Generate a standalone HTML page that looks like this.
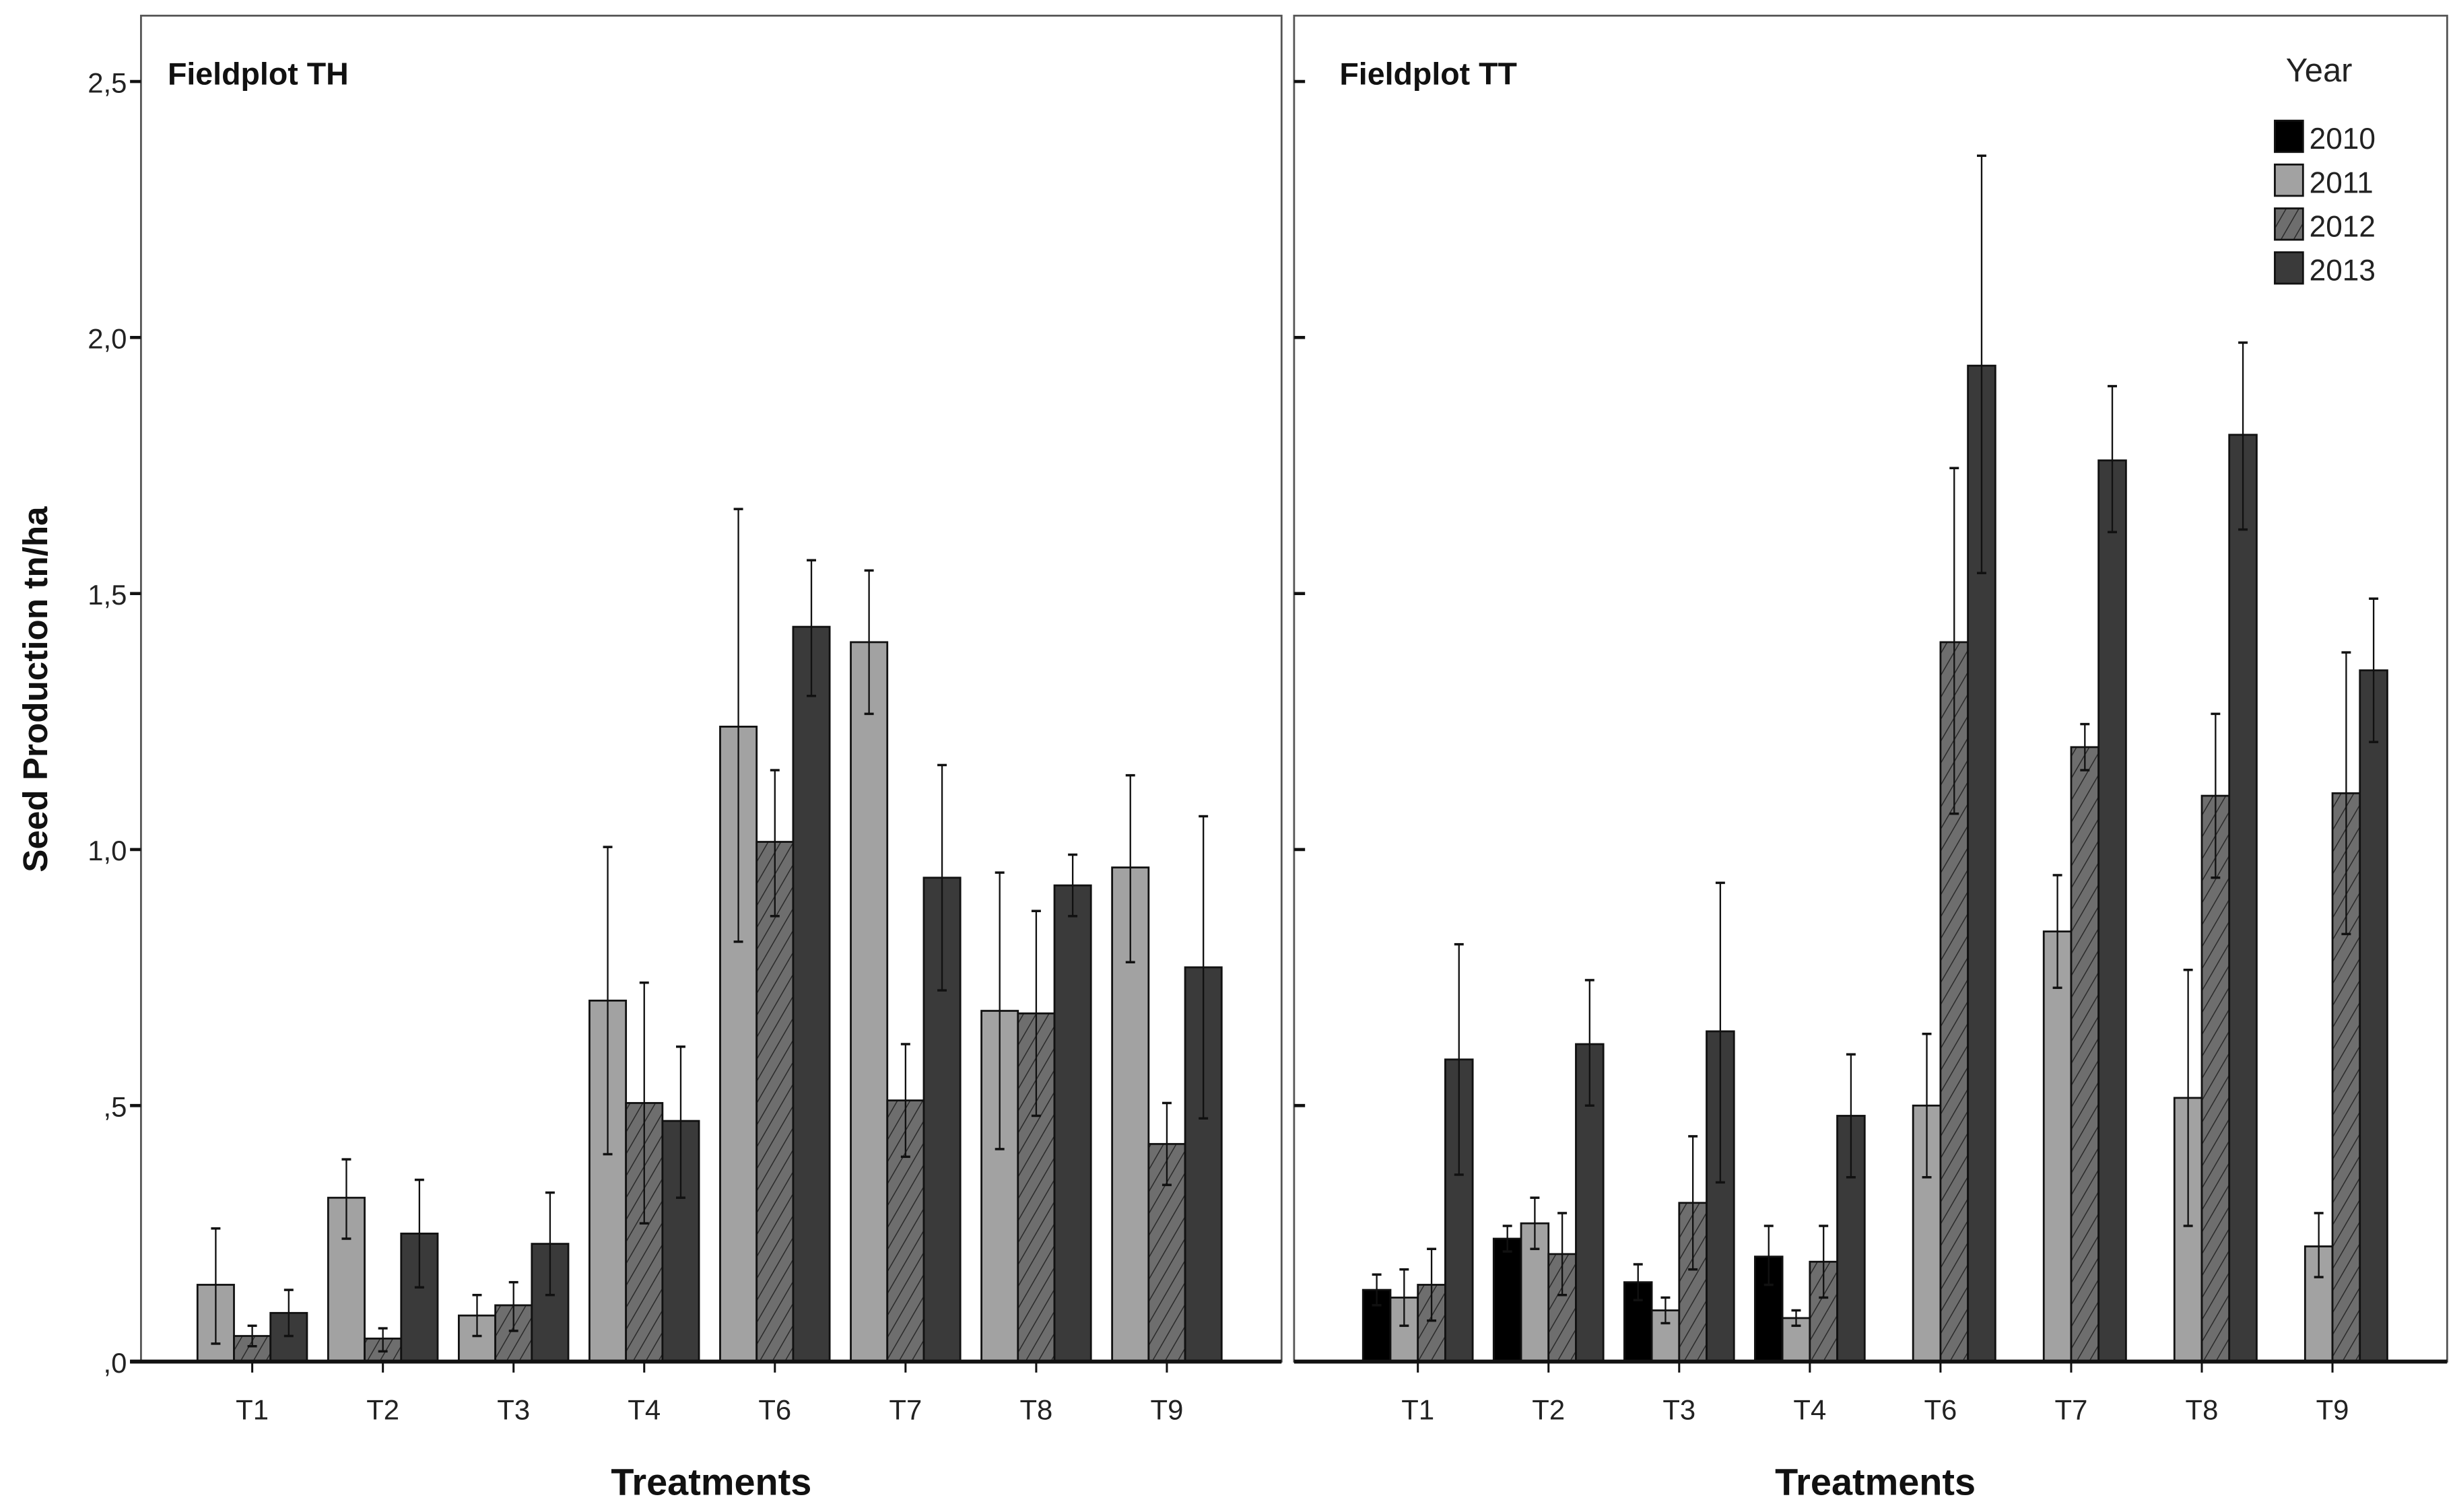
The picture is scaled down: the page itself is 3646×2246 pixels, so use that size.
<!DOCTYPE html>
<html><head><meta charset="utf-8"><style>
html,body{margin:0;padding:0;background:#fff}
svg{display:block;font-family:"Liberation Sans",Arial,sans-serif}
</style></head><body>
<svg id="chart" width="3646" height="2246" viewBox="0 0 1567 965" preserveAspectRatio="none" xmlns="http://www.w3.org/2000/svg">
<defs>
<pattern id="hatch" patternUnits="userSpaceOnUse" width="7" height="7" patternTransform="rotate(30)">
<rect width="7" height="7" fill="#6e6e6e"/><line x1="0" y1="0" x2="0" y2="7" stroke="#2a2a2a" stroke-width="1.3"/>
</pattern>
</defs>
<rect width="1567" height="965" fill="#fff"/>
<g id="plot"></g>
<text transform="translate(30,440) rotate(-90)" text-anchor="middle" font-size="22" font-weight="bold" fill="#111">Seed Production tn/ha</text>
<text x="454" y="954" text-anchor="middle" font-size="24" font-weight="bold" fill="#111">Treatments</text>
<text x="1197" y="954" text-anchor="middle" font-size="24" font-weight="bold" fill="#111">Treatments</text>
<text x="107" y="54" font-size="20" font-weight="bold" fill="#111">Fieldplot TH</text>
<text x="855" y="54" font-size="20" font-weight="bold" fill="#111">Fieldplot TT</text>
<text x="1459" y="52" font-size="21" fill="#222">Year</text>
</svg>
<script>
const categories = ["T1","T2","T3","T4","T6","T7","T8","T9"];
const yTicks = [0,0.5,1.0,1.5,2.0,2.5];
const yTickLabels = [",0",",5","1,0","1,5","2,0","2,5"];
const years = ["2010","2011","2012","2013"];
// Fieldplot TH (2011, 2012, 2013)
const th2011 = [0.15,0.32,0.09,0.705,1.24,1.405,0.685,0.965];
const th2011Lo = [0.035,0.24,0.05,0.405,0.82,1.265,0.415,0.78];
const th2011Hi = [0.26,0.395,0.13,1.005,1.665,1.545,0.955,1.145];
const th2012 = [0.05,0.045,0.11,0.505,1.015,0.51,0.68,0.425];
const th2012Lo = [0.03,0.02,0.06,0.27,0.87,0.4,0.48,0.345];
const th2012Hi = [0.07,0.065,0.155,0.74,1.155,0.62,0.88,0.505];
const th2013 = [0.095,0.25,0.23,0.47,1.435,0.945,0.93,0.77];
const th2013Lo = [0.05,0.145,0.13,0.32,1.3,0.725,0.87,0.475];
const th2013Hi = [0.14,0.355,0.33,0.615,1.565,1.165,0.99,1.065];
// Fieldplot TT (2010, 2011, 2012, 2013)
const tt2010 = [0.14,0.24,0.155,0.205,null,null,null,null];
const tt2010Lo = [0.11,0.215,0.12,0.15,null,null,null,null];
const tt2010Hi = [0.17,0.265,0.19,0.265,null,null,null,null];
const tt2011 = [0.125,0.27,0.1,0.085,0.5,0.84,0.515,0.225];
const tt2011Lo = [0.07,0.22,0.075,0.07,0.36,0.73,0.265,0.165];
const tt2011Hi = [0.18,0.32,0.125,0.1,0.64,0.95,0.765,0.29];
const tt2012 = [0.15,0.21,0.31,0.195,1.405,1.2,1.105,1.11];
const tt2012Lo = [0.08,0.13,0.18,0.125,1.07,1.155,0.945,0.835];
const tt2012Hi = [0.22,0.29,0.44,0.265,1.745,1.245,1.265,1.385];
const tt2013 = [0.59,0.62,0.645,0.48,1.945,1.76,1.81,1.35];
const tt2013Lo = [0.365,0.5,0.35,0.36,1.54,1.62,1.625,1.21];
const tt2013Hi = [0.815,0.745,0.935,0.6,2.355,1.905,1.99,1.49];

const NS="http://www.w3.org/2000/svg";
const g=document.getElementById('plot');
function el(t,a,p){const e=document.createElementNS(NS,t);for(const k in a)e.setAttribute(k,a[k]);(p||g).appendChild(e);return e;}
const Y0=869, UNIT=326.8;
function y(v){return Y0-v*UNIT;}
const fills={"2010":"#000","2011":"#a2a2a2","2012":"url(#hatch)","2013":"#3a3a3a"};

const panels=[
 {id:"th",left:90,right:818,first:161,series:[["2011",th2011,th2011Lo,th2011Hi],["2012",th2012,th2012Lo,th2012Hi],["2013",th2013,th2013Lo,th2013Hi]],bw:23.3},
 {id:"tt",left:826,right:1562,first:905,series:[["2010",tt2010,tt2010Lo,tt2010Hi],["2011",tt2011,tt2011Lo,tt2011Hi],["2012",tt2012,tt2012Lo,tt2012Hi],["2013",tt2013,tt2013Lo,tt2013Hi]],bw:17.5}
];
const STEP=83.4;
function xc(p,i){return p.first+i*STEP;}

panels.forEach((p,pi)=>{
 const f=el('rect',{x:p.left,y:10,width:p.right-p.left,height:Y0-10,fill:"none",stroke:"#555","stroke-width":1.2});
 
 
 yTicks.forEach((t,k)=>{
  const tk=el('line',{x1:pi==0?p.left-7:p.left,x2:pi==0?p.left:p.left+7,y1:y(t),y2:y(t),stroke:"#111","stroke-width":2});
  
  
  if(pi==0){
   const tl=el('text',{x:p.left-9,y:y(t)+7,"text-anchor":"end","font-size":18,fill:"#222"});
   tl.textContent=yTickLabels[k];
   
   
  }
 });
 const n=p.series.length, tot=p.bw*n;
 categories.forEach((c,i)=>{
  const cx=xc(p,i);
  p.series.forEach((s,j)=>{
   const v=s[1][i]; if(v==null) return;
   const bx=cx-tot/2+j*p.bw;
   const r=el('rect',{x:bx,y:y(v),width:p.bw,height:Y0-y(v),fill:fills[s[0]],stroke:"#111","stroke-width":1.2});
   
   
   const mx=bx+p.bw/2;
   const e=el('line',{x1:mx,x2:mx,y1:y(s[2][i]),y2:y(s[3][i]),stroke:"#111","stroke-width":1});
   
   
   [s[2][i],s[3][i]].forEach(w=>{
    const cap=el('line',{x1:mx-3,x2:mx+3,y1:y(w),y2:y(w),stroke:"#111","stroke-width":1.5});
    
    
   });
  });
  const xt=el('line',{x1:cx,x2:cx,y1:Y0,y2:Y0+7,stroke:"#111","stroke-width":1.3});
  
  
  const xl=el('text',{x:cx,y:Y0+37,"text-anchor":"middle","font-size":18,fill:"#222"});
  xl.textContent=c;
  
  
 });
 const ax=el('line',{x1:pi==0?p.left-7:p.left,x2:p.right,y1:Y0,y2:Y0,stroke:"#111","stroke-width":2.5});
 
 
});

years.forEach((yr,i)=>{
 const cy=87+i*28;
 const s=el('rect',{x:1452,y:cy-10,width:18,height:20,fill:fills[yr],stroke:"#111","stroke-width":1.2});
 
 
 const t=el('text',{x:1474,y:cy+8,"font-size":19,fill:"#222"});
 t.textContent=yr;
 
 
});
</script>
</body></html>
